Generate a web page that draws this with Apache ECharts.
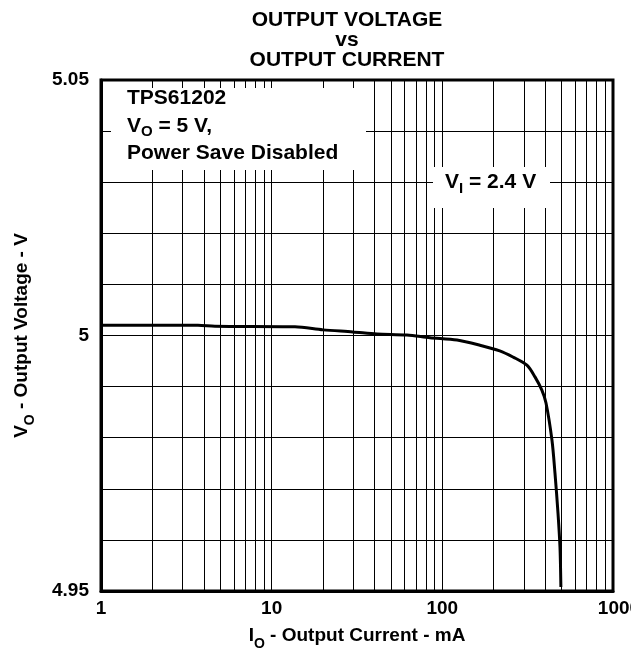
<!DOCTYPE html>
<html>
<head>
<meta charset="utf-8">
<script src="https://cdn.jsdelivr.net/npm/echarts@6/dist/echarts.min.js"></script>
<style>
  html, body { margin: 0; padding: 0; background: #fff; }
  #chart { width: 631px; height: 651px; }
</style>
</head>
<body>
<div id="chart"></div>
<script>
// Output current (mA) and output voltage (V), TPS61202, VI = 2.4 V
const currentMA = [1, 3.7, 4.65, 13.7, 20, 29.9, 41.4, 62, 84.6, 122, 166, 217, 259, 313, 349, 383, 405, 439, 457, 476, 489, 495];
const voltageV  = [5.0020, 5.0020, 5.0018, 5.0017, 5.0011, 5.0007, 5.0003, 5.0001, 4.99957, 4.9991, 4.9981, 4.9970, 4.9958, 4.9942, 4.9919, 4.9893, 4.9868, 4.9795, 4.9731, 4.9653, 4.9586, 4.9508];

// Axis ranges, labelled ticks and grid positions
const xRange = [1, 1000];
const yRange = [4.95, 5.05];
const yStep = 0.01;
const yLabelled = [4.95, 5, 5.05];
const xMinorGrid = [2, 3, 4, 5, 6, 7, 8, 9, 20, 30, 40, 50, 60, 70, 80, 90, 200, 300, 400, 500, 600, 700, 800, 900];

const FONT = '"Liberation Sans", Arial, Helvetica, sans-serif';

const chart = echarts.init(document.getElementById('chart'), null, { renderer: 'canvas' });

const subRich = (size, subSize, lh) => ({
  m: { fontFamily: FONT, fontWeight: 'bold', fontSize: size, color: '#000', lineHeight: lh, verticalAlign: 'middle' },
  s: { fontFamily: FONT, fontWeight: 'bold', fontSize: subSize, color: '#000', lineHeight: 13, verticalAlign: 'bottom' }
});

const tickFont = { fontFamily: FONT, fontWeight: 'bold', fontSize: 19, color: '#000' };

chart.setOption({
  animation: false,
  backgroundColor: '#fff',
  title: {
    text: 'OUTPUT VOLTAGE\nvs\nOUTPUT CURRENT',
    left: 342,
    top: 5,
    textAlign: 'center',
    textStyle: { fontFamily: FONT, fontWeight: 'bold', fontSize: 21, lineHeight: 20, color: '#000' }
  },
  grid: {
    left: 101, right: 18, top: 80, bottom: 60,
    outerBoundsMode: 'none',
    containLabel: false,
    show: true, borderColor: '#000', borderWidth: 3, backgroundColor: 'transparent'
  },
  xAxis: {
    type: 'log',
    logBase: 10,
    min: xRange[0],
    max: xRange[1],
    name: '{m|I}{s|O}{m| - Output Current - mA}',
    nameLocation: 'middle',
    nameGap: 30,
    nameTextStyle: { rich: subRich(19, 14, 30) },
    axisLine: { show: true, lineStyle: { color: '#000', width: 3 } },
    axisTick: { show: false },
    axisLabel: Object.assign({}, tickFont, {
      margin: 8,
      hideOverlap: false,
      // the last decade label runs past the right edge of the page
      formatter: (v) => Math.round(v) === xRange[1] ? '{r|' + Math.round(v) + '}' : String(Math.round(v)),
      rich: { r: Object.assign({}, tickFont, { padding: [0, 0, 0, 12] }) }
    }),
    splitLine: { show: true, lineStyle: { color: '#000', width: 1 } },
    minorTick: { show: false },
    minorSplitLine: { show: false }
  },
  yAxis: {
    type: 'value',
    min: yRange[0],
    max: yRange[1],
    interval: yStep,
    name: '{m|V}{s|O}{m| - Output Voltage - V}',
    nameLocation: 'middle',
    nameGap: 64,
    nameRotate: 90,
    nameTextStyle: { rich: subRich(19, 14, 30) },
    axisLine: { show: true, lineStyle: { color: '#000', width: 3 } },
    axisTick: { show: false },
    axisLabel: Object.assign({}, tickFont, {
      margin: 12,
      formatter: (v) => yLabelled.some(t => Math.abs(t - v) < 1e-6) ? String(parseFloat(v.toFixed(2))) : ''
    }),
    splitLine: { show: true, lineStyle: { color: '#000', width: 1 } }
  },
  series: [{
    type: 'line',
    data: currentMA.map((c, i) => [c, voltageV[i]]),
    showSymbol: false,
    smooth: 0.3,
    lineStyle: { color: '#000', width: 3 },
    z: 5,
    markLine: {
      silent: true,
      symbol: ['none', 'none'],
      label: { show: false },
      lineStyle: { color: '#000', width: 1, type: 'solid' },
      data: xMinorGrid.map(v => ({ xAxis: v }))
    }
  }],
  graphic: [
    { type: 'rect', z: 100, shape: { x: 111, y: 88, width: 255, height: 82 }, style: { fill: '#fff' } },
    {
      type: 'text', z: 101, left: 127, top: 88,
      style: {
        text: '{m|TPS61202}\n{m|V}{s|O}{m| = 5 V,}\n{m|Power Save Disabled}',
        rich: subRich(21, 15, 27.5)
      }
    },
    { type: 'rect', z: 100, shape: { x: 433, y: 167, width: 117, height: 41 }, style: { fill: '#fff' } },
    {
      type: 'text', z: 101, left: 445, top: 172,
      style: {
        text: '{m|V}{s|I}{m| = 2.4 V}',
        rich: subRich(21, 15, 27.5)
      }
    }
  ]
});
</script>
</body>
</html>
